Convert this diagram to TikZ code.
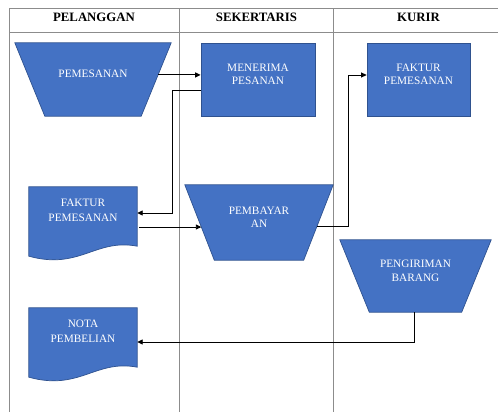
\documentclass[tikz,border=0pt]{standalone}
\usepackage{fontspec}
\setmainfont{Liberation Serif}
\usetikzlibrary{arrows.meta,calc,backgrounds}

\definecolor{boxfill}{HTML}{4472C4}
\definecolor{boxline}{HTML}{2F528F}
\definecolor{laneline}{HTML}{8C8C8C}

\begin{document}
\begin{tikzpicture}[x=1pt,y=-1pt,
  lane/.style={draw=laneline, line width=0.9pt},
  head/.style={font=\fontsize{12.8}{14}\selectfont\bfseries, inner sep=0pt},
  label text/.style={rectangle, inner sep=0pt, text=white, align=center,
    font=\fontsize{11.3}{13.5}\selectfont, text depth=10.6pt},
  proc/.style={label text, fill=boxfill, draw=boxline, line width=0.7pt,
    minimum width=114pt, minimum height=73pt},
  manualbox/.style={label text},
  docbody/.style={label text, font=\fontsize{11.3}{15}\selectfont,
    minimum width=108pt, minimum height=59pt, text depth=12pt},
  shapeline/.style={fill=boxfill, draw=boxline, line width=0.7pt},
  flow/.style={draw=black, line width=0.9pt,
    -{Triangle[length=5.5pt,width=5pt]}}
]
\useasboundingbox (0,0) rectangle (498,412);

% lane titles
\node[head] (hPelanggan) at (94,17.5) {PELANGGAN};
\node[head] (hSekertaris) at (256.5,17.5) {SEKERTARIS};
\node[head] (hKurir) at (418.5,17.5) {KURIR};

% process steps
\node[proc] (menerima) at (258,79.5) {MENERIMA\\PESANAN};
\node[proc, minimum width=103pt] (fakturK) at (418.5,79.5) {FAKTUR\\PEMESANAN};

% manual operations (outline drawn behind the text)
\node[manualbox, minimum width=156pt, minimum height=73pt] (pemesanan) at (93,79.5) {PEMESANAN};
\node[manualbox, minimum width=148pt, minimum height=75pt] (pembayaran) at (259,222.5) {PEMBAYAR\\AN};
\node[manualbox, minimum width=151pt, minimum height=72pt] (pengiriman) at (415.5,276) {PENGIRIMAN\\BARANG};

% documents
\node[docbody] (fakturP) at (83,216.5) {FAKTUR\\PEMESANAN};
\node[docbody] (nota) at (83,337.5) {NOTA\\PEMBELIAN};

\begin{scope}[on background layer]
  % swimlane frame
  \draw[lane] (9,8.5) -- (498,8.5);
  \draw[lane] (9,32) -- (498,32);
  \draw[lane] (9,8.5) -- (9,412);
  \draw[lane] (179,8.5) -- (179,412);
  \draw[lane] (333,8.5) -- (333,412);
  % trapezoids
  \foreach \nm/\ins in {pemesanan/30, pembayaran/29.5, pengiriman/29.5} {
    \coordinate (\nm-se) at ($(\nm.south east)+(-\ins,0)$);
    \coordinate (\nm-sw) at ($(\nm.south west)+(\ins,0)$);
    \draw[shapeline] (\nm.north west) -- (\nm.north east) -- (\nm-se)
      -- (\nm-sw) -- cycle;
  }
  % document sheets with wavy bottom
  \foreach \nm in {fakturP,nota}
    \draw[shapeline] (\nm.north west) -- (\nm.north east) -- (\nm.south east)
      .. controls ($(\nm.south east)+(-42,-8)$) and ($(\nm.south west)+(51,24)$)
      .. ($(\nm.south west)+(0,10)$) -- cycle;
\end{scope}

% flows
\coordinate (pemOut) at ($(pemesanan.north east)!0.438!(pemesanan-se)$);
\coordinate (payIn) at ($(pembayaran.north west)!0.56!(pembayaran-sw)$);
\coordinate (payOut) at ($(pembayaran.north east)!0.547!(pembayaran-se)$);

\draw[flow] (pemOut) -- (pemOut -| menerima.west);
\draw[flow] ([yshift=-11.2pt]menerima.west) -- ++(-28,0) |- ([yshift=3.5pt]fakturP.east);
\draw[flow] ($(payIn -| fakturP.east)+(2,0)$) -- (payIn);
\draw[flow] (payOut) -- ++(31,0) |- ([yshift=4.5pt]fakturK.west);
\draw[flow] ([xshift=-1.5pt]pengiriman.south) |- ([yshift=-4.5pt]nota.east);
\end{tikzpicture}
\end{document}
